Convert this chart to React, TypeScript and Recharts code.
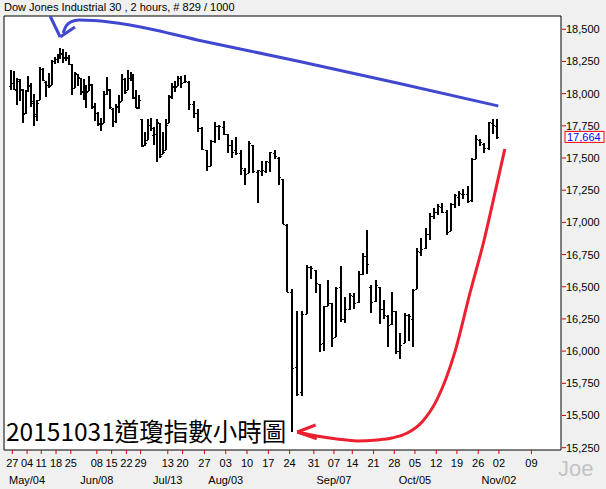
import React from "react";
import { ComposedChart, Bar, Line, XAxis, YAxis, CartesianGrid, ReferenceArea } from "recharts";

// weekly layout of the 2-hour feed: monday label, month caption, 2h bars in the week, trading days shown
const weekLabels = ["", "27", "04", "11", "18", "25", "", "08", "15", "22", "29", "", "13", "20", "27", "03", "10", "17", "24", "31", "07", "14", "21", "28", "05", "12", "19", "26", "02", "09"];
const weekMonths = ["", "", "May/04", "", "", "", "", "Jun/08", "", "", "", "", "Jul/13", "", "", "Aug/03", "", "", "", "", "Sep/07", "", "", "", "Oct/05", "", "", "", "Nov/02", ""];
const weekBars = [5, 25, 24, 25, 25, 19, 25, 25, 25, 24, 21, 25, 25, 37, 36, 36, 36, 36, 41, 34, 31, 36, 35, 35, 36, 35, 36, 35, 55, 50];
const weekDays = [1, 5, 5, 5, 5, 4, 5, 5, 5, 5, 4, 5, 5, 5, 5, 5, 5, 5, 5, 5, 4, 5, 5, 5, 5, 5, 5, 5, 0, 0];
const LEAD = 9;

const dayDates = [
  "04/24",
  "04/27", "04/28", "04/29", "04/30", "05/01",
  "05/04", "05/05", "05/06", "05/07", "05/08",
  "05/11", "05/12", "05/13", "05/14", "05/15",
  "05/18", "05/19", "05/20", "05/21", "05/22",
  "05/26", "05/27", "05/28", "05/29",
  "06/01", "06/02", "06/03", "06/04", "06/05",
  "06/08", "06/09", "06/10", "06/11", "06/12",
  "06/15", "06/16", "06/17", "06/18", "06/19",
  "06/22", "06/23", "06/24", "06/25", "06/26",
  "06/29", "06/30", "07/01", "07/02",
  "07/06", "07/07", "07/08", "07/09", "07/10",
  "07/13", "07/14", "07/15", "07/16", "07/17",
  "07/20", "07/21", "07/22", "07/23", "07/24",
  "07/27", "07/28", "07/29", "07/30", "07/31",
  "08/03", "08/04", "08/05", "08/06", "08/07",
  "08/10", "08/11", "08/12", "08/13", "08/14",
  "08/17", "08/18", "08/19", "08/20", "08/21",
  "08/24", "08/25", "08/26", "08/27", "08/28",
  "08/31", "09/01", "09/02", "09/03", "09/04",
  "09/08", "09/09", "09/10", "09/11",
  "09/14", "09/15", "09/16", "09/17", "09/18",
  "09/21", "09/22", "09/23", "09/24", "09/25",
  "09/28", "09/29", "09/30", "10/01", "10/02",
  "10/05", "10/06", "10/07", "10/08", "10/09",
  "10/12", "10/13", "10/14", "10/15", "10/16",
  "10/19", "10/20", "10/21", "10/22", "10/23",
  "10/26", "10/27", "10/28", "10/29", "10/30",
];

const dayOpen = [
  18060,
  18085, 18030, 18100, 18030, 17850,
  18025, 18060, 17940, 17830, 17950,
  18190, 18090, 18070, 18070, 18255,
  18270, 18300, 18310, 18280, 18280,
  18230, 18040, 18150, 18120,
  18020, 18030, 18020, 18070, 17900,
  17850, 17770, 17770, 18000, 18030,
  17880, 17790, 17900, 17940, 18110,
  18030, 18120, 18140, 17970, 17900,
  17800, 17600, 17640, 17760,
  17680, 17690, 17770, 17530, 17560,
  17770, 17980, 18060, 18060, 18120,
  18090, 18090, 17920, 17850, 17730,
  17560, 17440, 17630, 17750, 17740,
  17690, 17600, 17560, 17540, 17410,
  17380, 17600, 17390, 17400, 17400,
  17470, 17540, 17500, 17340, 16980,
  16460, 15880, 15680, 16290, 16650,
  16630, 16520, 16060, 16350, 16370,
  16110, 16500, 16250, 16330,
  16430, 16380, 16600, 16740, 16500,
  16390, 16500, 16330, 16270, 16210,
  16310, 16000, 16060, 16280, 16250,
  16480, 16770, 16800, 16910, 17050,
  17080, 17120, 17080, 16930, 17140,
  17200, 17220, 17220, 17170, 17490,
  17640, 17610, 17580, 17770, 17750,
];

const dayHigh = [
  18185,
  18175, 18120, 18110, 18035, 18030,
  18135, 18080, 18000, 17950, 18210,
  18200, 18100, 18160, 18260, 18285,
  18310, 18355, 18350, 18320, 18300,
  18230, 18170, 18155, 18125,
  18110, 18070, 18140, 18075, 17930,
  17860, 17810, 18020, 18130, 18035,
  17885, 17920, 17990, 18150, 18120,
  18180, 18170, 18150, 18030, 17990,
  17800, 17700, 17800, 17810,
  17740, 17800, 17770, 17700, 17800,
  17990, 18080, 18100, 18140, 18135,
  18145, 18100, 17940, 17880, 17740,
  17565, 17640, 17780, 17760, 17790,
  17690, 17640, 17660, 17560, 17420,
  17630, 17600, 17410, 17480, 17480,
  17550, 17560, 17510, 17340, 16990,
  16480, 16310, 16310, 16670, 16660,
  16630, 16520, 16350, 16550, 16370,
  16500, 16660, 16420, 16450,
  16450, 16620, 16760, 16940, 16510,
  16550, 16500, 16400, 16280, 16460,
  16310, 16140, 16300, 16290, 16480,
  16800, 16880, 16960, 17070, 17110,
  17140, 17150, 17100, 17150, 17220,
  17240, 17260, 17280, 17500, 17680,
  17650, 17620, 17780, 17800, 17800,
];

const dayLow = [
  18030,
  18030, 17910, 17940, 17775, 17840,
  18010, 17900, 17745, 17790, 17950,
  18100, 17975, 18040, 18070, 18230,
  18240, 18270, 18240, 18250, 18220,
  17990, 18040, 18060, 17990,
  17950, 17890, 18020, 17880, 17790,
  17750, 17710, 17770, 17990, 17880,
  17740, 17770, 17850, 17940, 18000,
  18030, 18100, 17960, 17890, 17880,
  17585, 17590, 17640, 17710,
  17600, 17470, 17500, 17530, 17560,
  17770, 17960, 18010, 18060, 18040,
  18080, 17870, 17810, 17700, 17560,
  17400, 17440, 17620, 17640, 17680,
  17540, 17500, 17520, 17370, 17290,
  17380, 17380, 17150, 17360, 17380,
  17390, 17490, 17290, 16990, 16460,
  15370, 15650, 15650, 16290, 16560,
  16450, 15990, 16000, 16350, 16030,
  16110, 16230, 16220, 16320,
  16330, 16370, 16590, 16600, 16300,
  16380, 16210, 16250, 16030, 16200,
  15980, 15940, 16060, 16080, 16030,
  16480, 16740, 16790, 16860, 17030,
  17060, 17070, 16900, 16930, 17110,
  17130, 17180, 17150, 17160, 17490,
  17590, 17540, 17560, 17690, 17650,
];

const dayClose = [
  18080,
  18037, 18110, 18035, 17841, 18024,
  18070, 17928, 17842, 17925, 18191,
  18105, 18068, 18060, 18252, 18272,
  18298, 18312, 18285, 18285, 18232,
  18041, 18162, 18126, 18010,
  18040, 18011, 18076, 17905, 17849,
  17766, 17764, 18000, 18039, 17899,
  17791, 17904, 17935, 18115, 18015,
  18119, 18144, 17966, 17890, 17947,
  17596, 17620, 17758, 17730,
  17684, 17776, 17515, 17548, 17760,
  17977, 18054, 18050, 18120, 18086,
  18100, 17919, 17851, 17731, 17569,
  17440, 17630, 17751, 17746, 17690,
  17598, 17550, 17541, 17419, 17373,
  17615, 17402, 17403, 17409, 17477,
  17546, 17512, 17349, 16991, 16460,
  15871, 15666, 16285, 16655, 16643,
  16528, 16058, 16351, 16375, 16102,
  16492, 16253, 16330, 16433,
  16370, 16599, 16739, 16674, 16384,
  16510, 16330, 16279, 16201, 16314,
  16001, 16049, 16284, 16272, 16472,
  16776, 16790, 16912, 17050, 17084,
  17131, 17081, 16924, 17141, 17215,
  17230, 17217, 17168, 17489, 17646,
  17623, 17581, 17779, 17755, 17664,
];

const priceTicks = [15250, 15500, 15750, 16000, 16250, 16500, 16750, 17000, 17250, 17500, 17750, 18000, 18250, 18500];
const lastClose = 17664;
const Y_MIN = 15232;
const Y_MAX = 18603;

// hand-drawn notes, in feed slot / index points
const blueArmT = [69, 86];
const blueArmV = [18603, 18440];
const blueBarbT = [86, 111];
const blueBarbV = [18440, 18518];
const blueCurveT = [91, 96, 104, 118, 143, 204, 318, 487, 656, 827];
const blueCurveV = [18471, 18526, 18557, 18572, 18568, 18533, 18417, 18254, 18083, 17904];
const redCurveT = [487, 520, 554, 588, 622, 647, 673, 698, 723, 754, 779, 803, 825, 838];
const redCurveV = [15372, 15341, 15318, 15302, 15310, 15325, 15364, 15450, 15621, 16000, 16450, 16863, 17305, 17570];
const redBarbUpT = [487, 518];
const redBarbUpV = [15372, 15426];
const redBarbDnT = [487, 520];
const redBarbDnV = [15372, 15318];

const weekStart: number[] = [];
let acc = 0;
weekBars.forEach((b) => {
  weekStart.push(acc);
  acc += b;
});
const DOMAIN_END = acc;

const bars: any[] = [];
let di = 0;
weekDays.forEach((n, w) => {
  const step = n ? weekBars[w] / n : 0;
  for (let j = 0; j < n; j++, di++) {
    bars.push({
      t: weekStart[w] + (j + 0.5) * step,
      date: dayDates[di],
      open: dayOpen[di],
      high: dayHigh[di],
      low: dayLow[di],
      close: dayClose[di],
      range: [dayLow[di], dayHigh[di]],
    });
  }
});

const tickT = weekStart.filter((_, i) => weekLabels[i] !== "");
const pts = (ts: number[], vs: number[]) => ts.map((t, i) => ({ t, v: vs[i] }));

const FONT = "'Liberation Sans', Arial, sans-serif";
const TICK_RED = "#d40000";
const BLUE = "#4048d0";
const RED = "#ec2030";

function OhlcShape(props: any) {
  const { x, y, width, height, payload } = props;
  if (x == null || y == null || !payload) return null;
  const top = Math.min(y, y + height);
  const h = Math.abs(height);
  const cx = Math.round(x + width / 2);
  const span = payload.high - payload.low || 1;
  const at = (v: number) => top + ((payload.high - v) / span) * h;
  const yo = Math.round(at(payload.open)) + 0.5;
  const yc = Math.round(at(payload.close)) + 0.5;
  return (
    <g stroke="#000" shapeRendering="crispEdges">
      <line x1={cx} x2={cx} y1={top} y2={top + Math.max(h, 1)} strokeWidth={2} />
      <line x1={cx - 2} x2={cx} y1={yo} y2={yo} strokeWidth={1} />
      <line x1={cx} x2={cx + 2} y1={yc} y2={yc} strokeWidth={1} />
    </g>
  );
}

function WeekTick(props: any) {
  const { x, y, payload } = props;
  const w = weekStart.indexOf(payload.value);
  return (
    <g>
      <line x1={x} x2={x} y1={y - 6} y2={y - 2} stroke={TICK_RED} />
      <text x={x} y={y + 11} textAnchor="middle" fontSize={11} fontFamily={FONT} fill="#000">
        {weekLabels[w]}
      </text>
      {weekMonths[w] ? (
        <text x={x} y={y + 27.5} textAnchor="middle" fontSize={11} fontFamily={FONT} fill="#000">
          {weekMonths[w]}
        </text>
      ) : null}
    </g>
  );
}

function PriceTick(props: any) {
  const { x, y, payload } = props;
  const v = payload.value;
  if (v === lastClose) {
    return (
      <g>
        <rect x={x - 2} y={y - 5.5} width={39} height={11} fill="#fff" stroke="#ff0000" />
        <text x={x} y={y + 4} fontSize={11} fontFamily={FONT} fill="#0000ff">
          {v.toLocaleString("en-US")}
        </text>
      </g>
    );
  }
  return (
    <g>
      <line x1={x - 5} x2={x - 1} y1={y} y2={y} stroke={TICK_RED} />
      <text x={x - 1} y={y + 4} fontSize={11} fontFamily={FONT} fill="#000">
        {v.toLocaleString("en-US")}
      </text>
    </g>
  );
}

const note = (data: any[], color: string, key: string) => (
  <Line
    key={key}
    data={data}
    dataKey="v"
    type="monotone"
    stroke={color}
    strokeWidth={3}
    dot={false}
    activeDot={false}
    isAnimationActive={false}
  />
);

export default function App() {
  return (
    <div
      style={{
        position: "absolute",
        left: 0,
        top: 0,
        width: 606,
        height: 489,
        background: "#f0f0f0",
        overflow: "hidden",
      }}
    >
      <ComposedChart
        width={606}
        height={489}
        data={bars}
        margin={{ top: 16, right: 0, bottom: 0, left: 4 }}
      >
        <CartesianGrid horizontal={false} vertical={false} fill="#ffffff" fillOpacity={1} />
        <XAxis
          type="number"
          dataKey="t"
          domain={[-LEAD, DOMAIN_END]}
          allowDataOverflow
          ticks={tickT}
          interval={0}
          tick={<WeekTick />}
          tickLine={false}
          axisLine={false}
          tickSize={4}
          tickMargin={2}
          height={39}
        />
        <YAxis
          orientation="right"
          type="number"
          domain={[Y_MIN, Y_MAX]}
          allowDataOverflow
          ticks={[...priceTicks, lastClose]}
          interval={0}
          tick={<PriceTick />}
          tickLine={false}
          axisLine={false}
          tickSize={4}
          tickMargin={2}
          width={45}
        />
        <Bar dataKey="range" barSize={3} shape={<OhlcShape />} isAnimationActive={false} />
        {note(pts(blueArmT, blueArmV), BLUE, "b1")}
        {note(pts(blueBarbT, blueBarbV), BLUE, "b2")}
        {note(pts(blueCurveT, blueCurveV), BLUE, "b3")}
        {note(pts(redCurveT, redCurveV), RED, "r1")}
        {note(pts(redBarbUpT, redBarbUpV), RED, "r2")}
        {note(pts(redBarbDnT, redBarbDnV), RED, "r3")}
        <ReferenceArea
          x1={-LEAD}
          x2={DOMAIN_END}
          y1={Y_MIN}
          y2={Y_MAX}
          fill="none"
          stroke="#000"
          strokeWidth={1}
        />
      </ComposedChart>
      <svg
        width={606}
        height={489}
        style={{ position: "absolute", left: 0, top: 0, pointerEvents: "none" }}
      >
        <text x={4} y={11} fontSize={11} fontFamily={FONT} fill="#000">
          Dow Jones Industrial 30 , 2 hours, # 829 / 1000
        </text>
        <text x={6} y={441} fontSize={24.5} fontFamily="'Noto Sans CJK TC', sans-serif" fill="#000">
          20151031道瓊指數小時圖
        </text>
        <text x={558} y={476} fontSize={22} fontFamily={FONT} fill="#c4c4c4">
          Joe
        </text>
      </svg>
    </div>
  );
}
